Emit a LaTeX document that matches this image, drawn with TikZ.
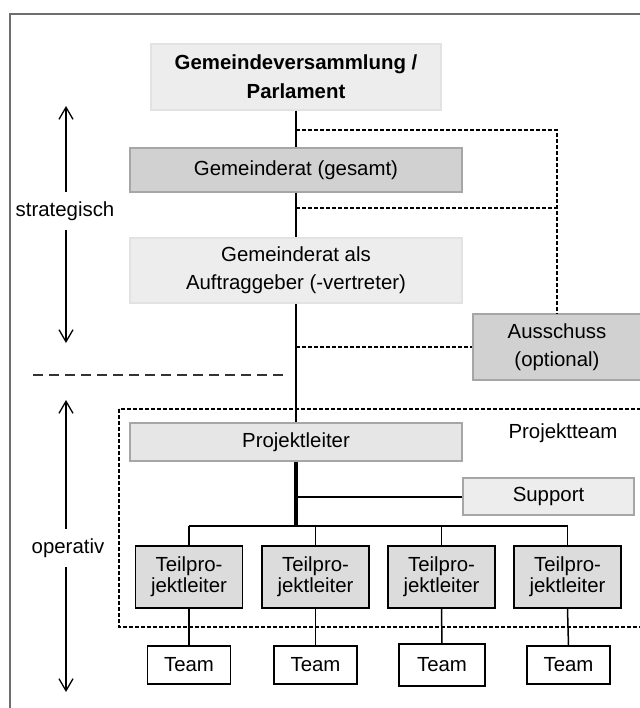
\documentclass[tikz,border=0pt]{standalone}
\usepackage{fontspec}
\setmainfont{Liberation Sans}
\usetikzlibrary{positioning,arrows.meta}
\definecolor{paleg}{HTML}{EDEDED}
\definecolor{paleb}{HTML}{E2E2E2}
\definecolor{plg}{HTML}{E6E6E6}
\definecolor{midg}{HTML}{D1D1D1}
\definecolor{midb}{HTML}{A6A6A6}
\definecolor{tplg}{HTML}{DCDCDC}
\definecolor{frameg}{HTML}{6E6E6E}

\begin{document}
\begin{tikzpicture}[x=0.5pt, y=0.5pt,
  font=\fontsize{10.2}{14}\selectfont,
  light/.style={draw=paleb, fill=paleg, line width=0.7pt, align=center, inner sep=0pt},
  dark/.style={draw=midb, fill=midg, line width=0.8pt, align=center, inner sep=0pt},
  mid/.style={draw=midb, fill=plg, line width=0.8pt, align=center, inner sep=0pt},
  tpl/.style={draw=black, fill=tplg, line width=0.8pt, align=center, inner sep=0pt,
    minimum width=53.5pt, minimum height=31pt, font=\fontsize{10.2}{10.5}\selectfont},
  team/.style={draw=black, fill=white, line width=0.8pt, inner sep=0pt, minimum width=41.5pt, minimum height=19pt},
  side/.style={inner sep=1pt, minimum height=19pt},
  main/.style={line width=0.85pt},
  dashln/.style={line width=0.7pt, dash pattern=on 2pt off 1pt},
  arr/.style={-{Straight Barb[length=6pt,width=7pt]}, line width=0.65pt}]

  \useasboundingbox (0,0) rectangle (640,-708);
  \clip (0,0) rectangle (640,-708);
  \draw[frameg, line width=1pt] (10,-720) -- (10,-14) -- (660,-14);

  \node[light, minimum width=145pt, minimum height=33pt, font=\fontsize{10.2}{14.5}\selectfont\bfseries] (gv) at (296,-77) {Gemeindeversammlung /\\Parlament};
  \node[dark, minimum width=166pt, minimum height=22pt] (grg) at (296,-170) {Gemeinderat (gesamt)};
  \node[light, minimum width=166pt, minimum height=32.5pt] (gra) at (296,-270.5) {Gemeinderat als\\Auftraggeber (-vertreter)};
  \node[dark, minimum width=84pt, minimum height=33pt] (aus) at (557,-347) {Ausschuss\\(optional)};
  \node[mid, minimum width=166pt, minimum height=19pt] (pl) at (296,-442) {Projektleiter};
  \node[light, draw=midb, minimum width=85.5pt, minimum height=18.5pt] (sup) at (548.5,-496.5) {Support};
  \node (pt) at (563,-433) {Projektteam};

  \node[tpl] (tpla) at (189,-577) {Teilpro-\\jektleiter};
  \node[tpl] (tplb) at (315.5,-577) {Teilpro-\\jektleiter};
  \node[tpl] (tplc) at (441.5,-577) {Teilpro-\\jektleiter};
  \node[tpl] (tpld) at (567.5,-577) {Teilpro-\\jektleiter};

  \node[team] (teama) at (189,-665) {Team};
  \node[team] (teamb) at (315.5,-665) {Team};
  \node[team, minimum width=43pt, minimum height=21pt] (teamc) at (442,-665) {Team};
  \node[team] (teamd) at (568.5,-665) {Team};

  \node[side] (strat) at (65,-211) {strategisch};
  \node[side] (oper) at (68,-548) {operativ};
  \coordinate (stratup) at (66,-106);
  \coordinate (stratdn) at (66,-343);
  \coordinate (operup) at (66,-400);
  \coordinate (operdn) at (66,-692);
  \draw[arr] (stratup |- strat.north) -- (stratup);
  \draw[arr] (stratdn |- strat.south) -- (stratdn);
  \draw[arr] (operup |- oper.north) -- (operup);
  \draw[arr] (operdn |- oper.south) -- (operdn);

  \coordinate (sepl) at (33,-375);
  \coordinate (sepr) at (283,-375);
  \draw[black!80, line width=0.6pt, dash pattern=on 5pt off 3pt] (sepl) -- (sepr);
  \draw[dashln] (119,-409) rectangle (660,-627);

  \draw[main] (gv.south) -- (grg.north);
  \draw[main] (grg.south) -- (gra.north);
  \draw[main] (gra.south) -- (pl.north);

  \coordinate (d1) at (296,-130);
  \coordinate (d2) at (296,-208);
  \draw[dashln] (d1) -| (aus.north);
  \draw[dashln] (d2) -- (d2 -| aus.north);
  \draw[dashln] (aus.west -| pl.north) -- (aus.west);

  \coordinate (bus) at (296,-526);
  \draw[line width=1.6pt] (pl.south) -- (bus);
  \draw[line width=1pt] (sup.west -| pl.south) -- (sup.west);
  \draw[line width=1pt] (tpla.north |- bus) -- (tpld.north |- bus);
  \draw[line width=0.75pt] (tpla.north) -- (tpla.north |- bus);
  \draw[line width=0.75pt] (tplb.north) -- (tplb.north |- bus);
  \draw[line width=0.75pt] (tplc.north) -- (tplc.north |- bus);
  \draw[line width=0.75pt] (tpld.north) -- (tpld.north |- bus);

  \draw[line width=0.75pt] (tpla.south) -- (teama.north);
  \draw[line width=0.75pt] (tplb.south) -- (teamb.north);
  \draw[line width=0.75pt] (tplc.south) -- (teamc.north);
  \draw[line width=0.75pt] (tpld.south) -- (teamd.north);
\end{tikzpicture}
\end{document}
